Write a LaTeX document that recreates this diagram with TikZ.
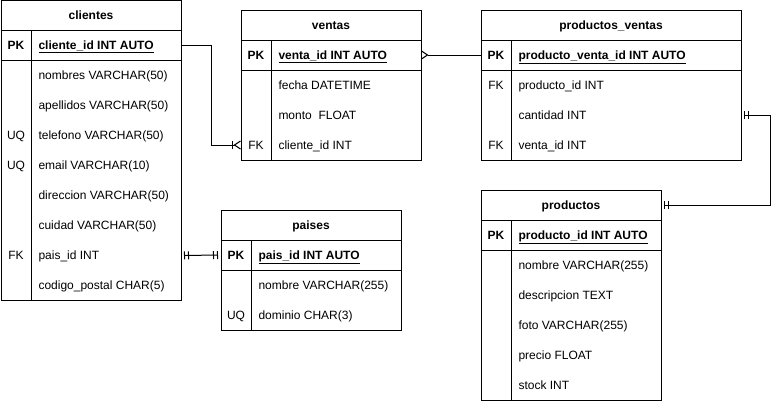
\documentclass[tikz,border=0pt]{standalone}
\usepackage{fontspec}
\setmainfont{Liberation Sans}
\usetikzlibrary{positioning,arrows.meta}
\newcommand{\tabfont}{\fontsize{12}{14}\selectfont}
\tikzset{
    mandone/.tip={Bar[width=8pt,sep=3pt]Bar[width=8pt,sep=3pt]},
    onemany/.tip={Bar[width=8pt,sep=1pt]Straight Barb[reversed,length=6pt,width=8pt]},
    many/.tip={Straight Barb[reversed,length=6pt,width=8pt]}
}
\begin{document}
\begin{tikzpicture}[
    x=1pt, y=-1pt, line width=1pt,
    tabhead/.style={rectangle, draw, minimum height=30pt, inner sep=0pt, outer sep=0pt,
        font=\tabfont\bfseries, text height=9pt, text depth=1pt},
    pkrow/.style={rectangle, draw, minimum height=30pt, inner sep=0pt, outer sep=0pt},
    tabbody/.style={rectangle, draw, inner sep=0pt, outer sep=0pt},
    keylab/.style={inner sep=0pt, font=\tabfont, text height=9pt, text depth=1pt},
    pklab/.style={keylab, font=\tabfont\bfseries},
    field/.style={anchor=west, inner sep=0pt, font=\tabfont, text height=9pt, text depth=1pt},
    pkfield/.style={field, font=\tabfont\bfseries}
]
\useasboundingbox (0,0) rectangle (780,402);

\node[tabhead, minimum width=180pt] (clientes) at (91,15.5) {clientes};
\node[pkrow, minimum width=180pt, below=0pt of clientes] (clientes-pk) {};
\node[tabbody, minimum width=180pt, minimum height=240pt, below=0pt of clientes-pk] (clientes-body) {};
\draw ([xshift=30pt]clientes-pk.north west) -- ([xshift=30pt]clientes-body.south west);
\node[pklab] (clientes-pklab) at ([xshift=15pt]clientes-pk.west) {PK};
\node[pkfield] (clientes-id) at ([xshift=37pt]clientes-pk.west) {\underline{cliente\_id INT AUTO}};
\node[field] (clientes-nombres) at ([xshift=37pt,yshift=-15pt]clientes-body.north west) {nombres VARCHAR(50)};
\node[field] (clientes-apellidos) at ([yshift=-30pt]clientes-nombres.west) {apellidos VARCHAR(50)};
\node[field] (clientes-telefono) at ([yshift=-30pt]clientes-apellidos.west) {telefono VARCHAR(50)};
\node[field] (clientes-email) at ([yshift=-30pt]clientes-telefono.west) {email VARCHAR(10)};
\node[field] (clientes-direccion) at ([yshift=-30pt]clientes-email.west) {direccion VARCHAR(50)};
\node[field] (clientes-cuidad) at ([yshift=-30pt]clientes-direccion.west) {cuidad VARCHAR(50)};
\node[field] (clientes-pais) at ([yshift=-30pt]clientes-cuidad.west) {pais\_id INT};
\node[field] (clientes-postal) at ([yshift=-30pt]clientes-pais.west) {codigo\_postal CHAR(5)};
\node[keylab] (clientes-uq1) at ([xshift=-22pt]clientes-telefono.west) {UQ};
\node[keylab] (clientes-uq2) at ([xshift=-22pt]clientes-email.west) {UQ};
\node[keylab] (clientes-fk) at ([xshift=-22pt]clientes-pais.west) {FK};

\node[tabhead, minimum width=180pt] (ventas) at (331,25) {ventas};
\node[pkrow, minimum width=180pt, below=0pt of ventas] (ventas-pk) {};
\node[tabbody, minimum width=180pt, minimum height=90pt, below=0pt of ventas-pk] (ventas-body) {};
\draw ([xshift=30pt]ventas-pk.north west) -- ([xshift=30pt]ventas-body.south west);
\node[pklab] (ventas-pklab) at ([xshift=15pt]ventas-pk.west) {PK};
\node[pkfield] (ventas-id) at ([xshift=37pt]ventas-pk.west) {\underline{venta\_id INT AUTO}};
\node[field] (ventas-fecha) at ([xshift=37pt,yshift=-15pt]ventas-body.north west) {fecha DATETIME};
\node[field] (ventas-monto) at ([yshift=-30pt]ventas-fecha.west) {monto\ \ FLOAT};
\node[field] (ventas-cliente) at ([yshift=-30pt]ventas-monto.west) {cliente\_id INT};
\node[keylab] (ventas-fk) at ([xshift=-22pt]ventas-cliente.west) {FK};

\node[tabhead, minimum width=260pt] (pv) at (611,25) {productos\_ventas};
\node[pkrow, minimum width=260pt, below=0pt of pv] (pv-pk) {};
\node[tabbody, minimum width=260pt, minimum height=90pt, below=0pt of pv-pk] (pv-body) {};
\draw ([xshift=30pt]pv-pk.north west) -- ([xshift=30pt]pv-body.south west);
\node[pklab] (pv-pklab) at ([xshift=15pt]pv-pk.west) {PK};
\node[pkfield] (pv-id) at ([xshift=37pt]pv-pk.west) {\underline{producto\_venta\_id INT AUTO}};
\node[field] (pv-producto) at ([xshift=37pt,yshift=-15pt]pv-body.north west) {producto\_id INT};
\node[field] (pv-cantidad) at ([yshift=-30pt]pv-producto.west) {cantidad INT};
\node[field] (pv-venta) at ([yshift=-30pt]pv-cantidad.west) {venta\_id INT};
\node[keylab] (pv-fk1) at ([xshift=-22pt]pv-producto.west) {FK};
\node[keylab] (pv-fk2) at ([xshift=-22pt]pv-venta.west) {FK};

\node[tabhead, minimum width=180pt] (paises) at (311,225) {paises};
\node[pkrow, minimum width=180pt, below=0pt of paises] (paises-pk) {};
\node[tabbody, minimum width=180pt, minimum height=60pt, below=0pt of paises-pk] (paises-body) {};
\draw ([xshift=30pt]paises-pk.north west) -- ([xshift=30pt]paises-body.south west);
\node[pklab] (paises-pklab) at ([xshift=15pt]paises-pk.west) {PK};
\node[pkfield] (paises-id) at ([xshift=37pt]paises-pk.west) {\underline{pais\_id INT AUTO}};
\node[field] (paises-nombre) at ([xshift=37pt,yshift=-15pt]paises-body.north west) {nombre VARCHAR(255)};
\node[field] (paises-dominio) at ([yshift=-30pt]paises-nombre.west) {dominio CHAR(3)};
\node[keylab] (paises-uq) at ([xshift=-22pt]paises-dominio.west) {UQ};

\node[tabhead, minimum width=180pt] (productos) at (571,205) {productos};
\node[pkrow, minimum width=180pt, below=0pt of productos] (productos-pk) {};
\node[tabbody, minimum width=180pt, minimum height=150pt, below=0pt of productos-pk] (productos-body) {};
\draw ([xshift=30pt]productos-pk.north west) -- ([xshift=30pt]productos-body.south west);
\node[pklab] (productos-pklab) at ([xshift=15pt]productos-pk.west) {PK};
\node[pkfield] (productos-id) at ([xshift=37pt]productos-pk.west) {\underline{producto\_id INT AUTO}};
\node[field] (productos-nombre) at ([xshift=37pt,yshift=-15pt]productos-body.north west) {nombre VARCHAR(255)};
\node[field] (productos-descripcion) at ([yshift=-30pt]productos-nombre.west) {descripcion TEXT};
\node[field] (productos-foto) at ([yshift=-30pt]productos-descripcion.west) {foto VARCHAR(255)};
\node[field] (productos-precio) at ([yshift=-30pt]productos-foto.west) {precio FLOAT};
\node[field] (productos-stock) at ([yshift=-30pt]productos-precio.west) {stock INT};

\draw[-{onemany}] (clientes-pk.east) -- ++(30,0) |- (ventas-cliente.west -| ventas-body.west);
\draw[{many}-] (ventas-pk.east) -- (pv-pk.west);
\draw[{mandone}-{mandone}] (pv-cantidad.west -| pv-body.east) -- ++(29,0) |- (productos.east);
\draw[{mandone}-{mandone}] (clientes-pais.west -| clientes-body.east) -- (paises-pk.west);

\end{tikzpicture}
\end{document}
